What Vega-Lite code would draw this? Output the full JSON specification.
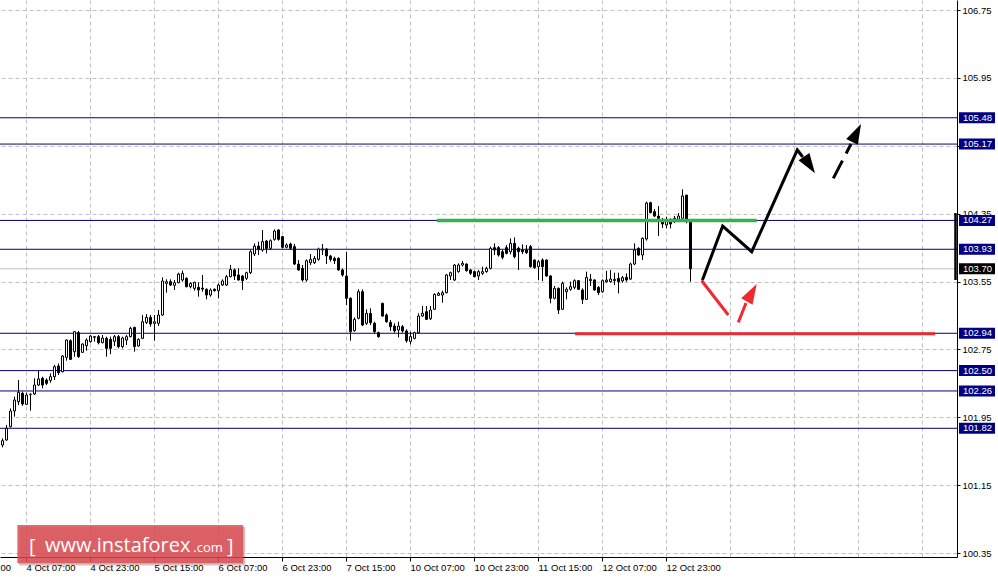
{
  "$schema": "https://vega.github.io/schema/vega-lite/v6.json",
  "width": 957,
  "height": 557,
  "autosize": {"type": "none"},
  "padding": {"left": 0, "top": 0, "right": 41, "bottom": 20},
  "background": "white",
  "config": {
    "view": {"stroke": null},
    "axis": {"labelFont": "Liberation Sans", "labelFontSize": 9.5, "labelColor": "black", "domainColor": "black", "tickColor": "black", "gridColor": "#c0c0c0", "gridDash": [4, 3], "gridWidth": 1, "labelOverlap": false, "labelBound": false, "labelFlush": false}
  },
  "datasets": {
    "candles": [
      {"i":0,"o":101.623,"h":101.701,"l":101.595,"c":101.674},
      {"i":1,"o":101.682,"h":101.859,"l":101.674,"c":101.819},
      {"i":2,"o":101.839,"h":102.055,"l":101.831,"c":102.024},
      {"i":3,"o":102.024,"h":102.192,"l":101.957,"c":102.153},
      {"i":4,"o":102.133,"h":102.389,"l":102.094,"c":102.244},
      {"i":5,"o":102.232,"h":102.252,"l":102.086,"c":102.106},
      {"i":6,"o":102.102,"h":102.240,"l":102.094,"c":102.212},
      {"i":7,"o":102.220,"h":102.232,"l":102.027,"c":102.220},
      {"i":8,"o":102.224,"h":102.409,"l":102.212,"c":102.330},
      {"i":9,"o":102.330,"h":102.499,"l":102.318,"c":102.401},
      {"i":10,"o":102.409,"h":102.428,"l":102.291,"c":102.330},
      {"i":11,"o":102.389,"h":102.409,"l":102.330,"c":102.350},
      {"i":12,"o":102.385,"h":102.467,"l":102.358,"c":102.428},
      {"i":13,"o":102.428,"h":102.566,"l":102.389,"c":102.546},
      {"i":14,"o":102.554,"h":102.585,"l":102.448,"c":102.475},
      {"i":15,"o":102.487,"h":102.684,"l":102.479,"c":102.672},
      {"i":16,"o":102.656,"h":102.868,"l":102.617,"c":102.860},
      {"i":17,"o":102.852,"h":102.868,"l":102.625,"c":102.633},
      {"i":18,"o":102.723,"h":102.967,"l":102.664,"c":102.959},
      {"i":19,"o":102.947,"h":102.967,"l":102.652,"c":102.664},
      {"i":20,"o":102.715,"h":102.821,"l":102.711,"c":102.813},
      {"i":21,"o":102.793,"h":102.880,"l":102.735,"c":102.860},
      {"i":22,"o":102.841,"h":102.919,"l":102.829,"c":102.907},
      {"i":23,"o":102.892,"h":102.907,"l":102.841,"c":102.900},
      {"i":24,"o":102.900,"h":102.919,"l":102.809,"c":102.829},
      {"i":25,"o":102.829,"h":102.919,"l":102.821,"c":102.884},
      {"i":26,"o":102.880,"h":102.900,"l":102.664,"c":102.762},
      {"i":27,"o":102.868,"h":102.900,"l":102.695,"c":102.762},
      {"i":28,"o":102.845,"h":102.919,"l":102.790,"c":102.900},
      {"i":29,"o":102.900,"h":102.919,"l":102.762,"c":102.782},
      {"i":30,"o":102.782,"h":102.900,"l":102.762,"c":102.884},
      {"i":31,"o":102.860,"h":102.919,"l":102.801,"c":102.900},
      {"i":32,"o":102.900,"h":103.017,"l":102.892,"c":102.998},
      {"i":33,"o":103.009,"h":103.017,"l":102.723,"c":102.782},
      {"i":34,"o":102.790,"h":102.880,"l":102.782,"c":102.868},
      {"i":35,"o":102.880,"h":103.155,"l":102.872,"c":103.076},
      {"i":36,"o":103.068,"h":103.167,"l":103.049,"c":103.127},
      {"i":37,"o":103.127,"h":103.155,"l":103.017,"c":103.049},
      {"i":38,"o":103.057,"h":103.155,"l":102.852,"c":103.076},
      {"i":39,"o":103.057,"h":103.214,"l":103.025,"c":103.155},
      {"i":40,"o":103.155,"h":103.599,"l":103.147,"c":103.556},
      {"i":41,"o":103.528,"h":103.576,"l":103.418,"c":103.548},
      {"i":42,"o":103.548,"h":103.576,"l":103.497,"c":103.509},
      {"i":43,"o":103.505,"h":103.568,"l":103.450,"c":103.536},
      {"i":44,"o":103.536,"h":103.654,"l":103.528,"c":103.638},
      {"i":45,"o":103.568,"h":103.678,"l":103.548,"c":103.646},
      {"i":46,"o":103.587,"h":103.599,"l":103.481,"c":103.489},
      {"i":47,"o":103.489,"h":103.540,"l":103.469,"c":103.528},
      {"i":48,"o":103.469,"h":103.548,"l":103.442,"c":103.540},
      {"i":49,"o":103.481,"h":103.540,"l":103.371,"c":103.450},
      {"i":50,"o":103.473,"h":103.627,"l":103.430,"c":103.461},
      {"i":51,"o":103.458,"h":103.469,"l":103.340,"c":103.391},
      {"i":52,"o":103.391,"h":103.469,"l":103.371,"c":103.450},
      {"i":53,"o":103.458,"h":103.469,"l":103.430,"c":103.442},
      {"i":54,"o":103.442,"h":103.528,"l":103.352,"c":103.509},
      {"i":55,"o":103.509,"h":103.576,"l":103.497,"c":103.556},
      {"i":56,"o":103.509,"h":103.627,"l":103.497,"c":103.607},
      {"i":57,"o":103.607,"h":103.744,"l":103.599,"c":103.693},
      {"i":58,"o":103.686,"h":103.705,"l":103.568,"c":103.615},
      {"i":59,"o":103.627,"h":103.705,"l":103.560,"c":103.568},
      {"i":60,"o":103.615,"h":103.627,"l":103.450,"c":103.560},
      {"i":61,"o":103.587,"h":103.666,"l":103.568,"c":103.654},
      {"i":62,"o":103.654,"h":103.921,"l":103.638,"c":103.901},
      {"i":63,"o":103.874,"h":104.000,"l":103.850,"c":103.968},
      {"i":64,"o":103.968,"h":104.020,"l":103.862,"c":103.929},
      {"i":65,"o":103.921,"h":104.157,"l":103.901,"c":104.020},
      {"i":66,"o":104.027,"h":104.039,"l":103.882,"c":103.941},
      {"i":67,"o":103.941,"h":104.047,"l":103.921,"c":104.031},
      {"i":68,"o":104.047,"h":104.165,"l":104.031,"c":104.145},
      {"i":69,"o":104.157,"h":104.165,"l":104.031,"c":104.047},
      {"i":70,"o":104.078,"h":104.086,"l":103.941,"c":103.953},
      {"i":71,"o":103.953,"h":104.000,"l":103.941,"c":103.980},
      {"i":72,"o":103.992,"h":104.008,"l":103.921,"c":103.941},
      {"i":73,"o":103.961,"h":103.992,"l":103.744,"c":103.756},
      {"i":74,"o":103.756,"h":103.803,"l":103.678,"c":103.686},
      {"i":75,"o":103.705,"h":103.744,"l":103.548,"c":103.568},
      {"i":76,"o":103.568,"h":103.811,"l":103.548,"c":103.795},
      {"i":77,"o":103.772,"h":103.874,"l":103.744,"c":103.811},
      {"i":78,"o":103.772,"h":103.850,"l":103.756,"c":103.823},
      {"i":79,"o":103.811,"h":103.949,"l":103.795,"c":103.933},
      {"i":80,"o":103.921,"h":103.992,"l":103.862,"c":103.933},
      {"i":81,"o":103.933,"h":103.941,"l":103.756,"c":103.850},
      {"i":82,"o":103.850,"h":103.862,"l":103.784,"c":103.811},
      {"i":83,"o":103.823,"h":103.843,"l":103.756,"c":103.795},
      {"i":84,"o":103.823,"h":103.835,"l":103.678,"c":103.686},
      {"i":85,"o":103.686,"h":103.705,"l":103.607,"c":103.627},
      {"i":86,"o":103.615,"h":103.901,"l":103.273,"c":103.352},
      {"i":87,"o":103.352,"h":103.363,"l":102.852,"c":102.959},
      {"i":88,"o":102.970,"h":103.127,"l":102.959,"c":103.104},
      {"i":89,"o":103.116,"h":103.458,"l":103.104,"c":103.430},
      {"i":90,"o":103.430,"h":103.458,"l":103.025,"c":103.037},
      {"i":91,"o":103.057,"h":103.222,"l":103.037,"c":103.175},
      {"i":92,"o":103.175,"h":103.234,"l":103.037,"c":103.064},
      {"i":93,"o":103.057,"h":103.076,"l":102.939,"c":102.959},
      {"i":94,"o":102.947,"h":102.959,"l":102.888,"c":102.900},
      {"i":95,"o":103.293,"h":103.300,"l":103.135,"c":103.143},
      {"i":96,"o":103.155,"h":103.175,"l":103.064,"c":103.076},
      {"i":97,"o":103.068,"h":103.096,"l":102.967,"c":103.017},
      {"i":98,"o":103.025,"h":103.057,"l":102.947,"c":102.967},
      {"i":99,"o":102.978,"h":103.076,"l":102.892,"c":103.025},
      {"i":100,"o":103.017,"h":103.037,"l":102.947,"c":102.967},
      {"i":101,"o":102.967,"h":102.986,"l":102.829,"c":102.852},
      {"i":102,"o":102.845,"h":102.959,"l":102.809,"c":102.900},
      {"i":103,"o":102.880,"h":102.959,"l":102.868,"c":102.947},
      {"i":104,"o":102.947,"h":103.175,"l":102.939,"c":103.143},
      {"i":105,"o":103.143,"h":103.261,"l":103.135,"c":103.175},
      {"i":106,"o":103.194,"h":103.261,"l":103.096,"c":103.104},
      {"i":107,"o":103.112,"h":103.261,"l":103.096,"c":103.214},
      {"i":108,"o":103.222,"h":103.410,"l":103.214,"c":103.399},
      {"i":109,"o":103.387,"h":103.426,"l":103.379,"c":103.410},
      {"i":110,"o":103.391,"h":103.442,"l":103.300,"c":103.418},
      {"i":111,"o":103.418,"h":103.638,"l":103.410,"c":103.627},
      {"i":112,"o":103.615,"h":103.666,"l":103.568,"c":103.654},
      {"i":113,"o":103.568,"h":103.756,"l":103.556,"c":103.744},
      {"i":114,"o":103.666,"h":103.764,"l":103.654,"c":103.744},
      {"i":115,"o":103.744,"h":103.791,"l":103.725,"c":103.764},
      {"i":116,"o":103.756,"h":103.764,"l":103.666,"c":103.678},
      {"i":117,"o":103.686,"h":103.697,"l":103.627,"c":103.646},
      {"i":118,"o":103.666,"h":103.678,"l":103.599,"c":103.607},
      {"i":119,"o":103.615,"h":103.686,"l":103.568,"c":103.666},
      {"i":120,"o":103.646,"h":103.725,"l":103.627,"c":103.666},
      {"i":121,"o":103.666,"h":103.725,"l":103.654,"c":103.705},
      {"i":122,"o":103.705,"h":103.961,"l":103.693,"c":103.941},
      {"i":123,"o":103.949,"h":104.000,"l":103.862,"c":103.921},
      {"i":124,"o":103.949,"h":103.968,"l":103.843,"c":103.862},
      {"i":125,"o":103.901,"h":103.921,"l":103.811,"c":103.835},
      {"i":126,"o":103.949,"h":103.980,"l":103.870,"c":103.882},
      {"i":127,"o":103.901,"h":104.059,"l":103.870,"c":104.000},
      {"i":128,"o":104.000,"h":104.070,"l":103.823,"c":103.843},
      {"i":129,"o":103.941,"h":103.961,"l":103.686,"c":103.901},
      {"i":130,"o":103.921,"h":103.988,"l":103.874,"c":103.901},
      {"i":131,"o":103.921,"h":103.980,"l":103.874,"c":103.890},
      {"i":132,"o":103.961,"h":103.980,"l":103.713,"c":103.725},
      {"i":133,"o":103.803,"h":103.811,"l":103.701,"c":103.713},
      {"i":134,"o":103.725,"h":103.803,"l":103.568,"c":103.784},
      {"i":135,"o":103.803,"h":103.823,"l":103.556,"c":103.725},
      {"i":136,"o":103.803,"h":103.811,"l":103.607,"c":103.615},
      {"i":137,"o":103.615,"h":103.627,"l":103.293,"c":103.352},
      {"i":138,"o":103.352,"h":103.497,"l":103.340,"c":103.469},
      {"i":139,"o":103.469,"h":103.481,"l":103.167,"c":103.214},
      {"i":140,"o":103.222,"h":103.548,"l":103.214,"c":103.528},
      {"i":141,"o":103.430,"h":103.481,"l":103.340,"c":103.458},
      {"i":142,"o":103.458,"h":103.548,"l":103.442,"c":103.489},
      {"i":143,"o":103.481,"h":103.576,"l":103.458,"c":103.560},
      {"i":144,"o":103.560,"h":103.568,"l":103.450,"c":103.458},
      {"i":145,"o":103.450,"h":103.469,"l":103.285,"c":103.340},
      {"i":146,"o":103.340,"h":103.666,"l":103.332,"c":103.599},
      {"i":147,"o":103.560,"h":103.638,"l":103.497,"c":103.576},
      {"i":148,"o":103.568,"h":103.576,"l":103.442,"c":103.450},
      {"i":149,"o":103.481,"h":103.497,"l":103.391,"c":103.418},
      {"i":150,"o":103.430,"h":103.576,"l":103.418,"c":103.560},
      {"i":151,"o":103.548,"h":103.674,"l":103.536,"c":103.568},
      {"i":152,"o":103.548,"h":103.686,"l":103.536,"c":103.579},
      {"i":153,"o":103.560,"h":103.654,"l":103.509,"c":103.576},
      {"i":154,"o":103.587,"h":103.654,"l":103.410,"c":103.548},
      {"i":155,"o":103.556,"h":103.615,"l":103.536,"c":103.595},
      {"i":156,"o":103.599,"h":103.646,"l":103.548,"c":103.568},
      {"i":157,"o":103.579,"h":103.772,"l":103.568,"c":103.756},
      {"i":158,"o":103.756,"h":104.000,"l":103.744,"c":103.921},
      {"i":159,"o":103.941,"h":103.953,"l":103.850,"c":103.862},
      {"i":160,"o":103.862,"h":104.070,"l":103.803,"c":104.059},
      {"i":161,"o":104.051,"h":104.490,"l":104.031,"c":104.475},
      {"i":162,"o":104.479,"h":104.490,"l":104.354,"c":104.361},
      {"i":163,"o":104.373,"h":104.404,"l":104.310,"c":104.322},
      {"i":164,"o":104.322,"h":104.440,"l":104.086,"c":104.295},
      {"i":165,"o":104.267,"h":104.298,"l":104.180,"c":104.228},
      {"i":166,"o":104.216,"h":104.314,"l":104.177,"c":104.263},
      {"i":167,"o":104.267,"h":104.295,"l":104.177,"c":104.228},
      {"i":168,"o":104.255,"h":104.322,"l":104.239,"c":104.295},
      {"i":169,"o":104.283,"h":104.357,"l":104.251,"c":104.322},
      {"i":170,"o":104.295,"h":104.637,"l":104.275,"c":104.558},
      {"i":171,"o":104.569,"h":104.569,"l":104.236,"c":104.255},
      {"i":172,"o":104.255,"h":104.275,"l":103.548,"c":103.700}
    ],
    "levels": [{"v":105.48},{"v":105.17},{"v":104.27},{"v":103.93},{"v":102.94},{"v":102.50},{"v":102.26},{"v":101.82}],
    "zig": [{"k":0,"i":175.05,"p":103.576},{"k":1,"i":180.05,"p":104.204},{"k":2,"i":187.3,"p":103.901},{"k":3,"i":198.7,"p":105.10},{"k":4,"i":199.875,"p":105.029}],
    "dash": [{"k":0,"i":207.7,"p":104.766},{"k":1,"i":212.125,"p":105.171}],
    "red": [{"seg":"a","k":0,"i":174.8,"p":103.559},{"seg":"a","k":1,"i":181.45,"p":103.155},{"seg":"b","k":0,"i":183.95,"p":103.069},{"seg":"b","k":1,"i":185.875,"p":103.296}],
    "one": [{}]
  },
  "layer": [
    {
      "data": {"name": "one"},
      "mark": {"type": "rule", "color": "#c0c0c0", "strokeWidth": 1},
      "encoding": {"y": {"datum": 103.70, "type": "quantitative", "title": null}}
    },
    {
      "data": {"name": "levels"},
      "mark": {"type": "rule", "color": "#000080", "strokeWidth": 1},
      "encoding": {"y": {"field": "v", "type": "quantitative", "title": null}}
    },
    {
      "data": {"name": "candles"},
      "mark": {"type": "rule", "color": "black", "strokeWidth": 1},
      "encoding": {
        "x": {"field": "i", "type": "quantitative", "title": null,
          "scale": {"domain": [-0.625, 238.625], "nice": false, "zero": false, "padding": 0},
          "axis": {
            "orient": "bottom",
            "values": [5.875,13.875,21.875,29.875,37.875,45.875,53.875,61.875,69.875,77.875,85.875,93.875,101.875,109.875,117.875,125.875,133.875,141.875,149.875,157.875,165.875,173.875,181.875,189.875,197.875,205.875,213.875,221.875,229.875,237.875],
            "labelExpr": "(round((datum.value-5.875)/8) % 2 == 0 && datum.value < 170) ? ['4 Oct 07:00','4 Oct 23:00','5 Oct 15:00','6 Oct 07:00','6 Oct 23:00','7 Oct 15:00','10 Oct 07:00','10 Oct 23:00','11 Oct 15:00','12 Oct 07:00','12 Oct 23:00'][round((datum.value-5.875)/16)] : ''",
            "tickOpacity": {"condition": {"test": "round((datum.value-5.875)/8) % 2 == 0 && datum.value < 170", "value": 1}, "value": 0},
            "tickSize": 4, "labelAlign": "left", "labelBaseline": "top", "labelPadding": 1, "grid": true, "title": null
          }
        },
        "y": {"field": "l", "type": "quantitative", "title": null,
          "scale": {"domain": [100.303, 106.868], "nice": false, "zero": false, "padding": 0},
          "axis": {
            "orient": "right",
            "values": [106.75,106.35,105.95,105.55,105.15,104.75,104.35,103.95,103.55,103.15,102.75,102.35,101.95,101.55,101.15,100.75,100.35],
            "format": ".2f", "tickSize": 3, "labelPadding": 2, "labelAlign": "left", "labelBaseline": "middle", "grid": true, "title": null
          }
        },
        "y2": {"field": "h"}
      }
    },
    {
      "data": {"name": "candles"},
      "mark": {"type": "bar", "width": 2, "stroke": "black", "strokeWidth": 1},
      "encoding": {
        "x": {"field": "i", "type": "quantitative", "title": null},
        "y": {"field": "o", "type": "quantitative", "title": null},
        "y2": {"field": "c"},
        "fill": {"condition": {"test": "datum.c > datum.o", "value": "white"}, "value": "black"}
      }
    },
    {
      "data": {"name": "one"},
      "mark": {"type": "rule", "color": "#36b34e", "strokeWidth": 3.5},
      "encoding": {
        "x": {"datum": 108.55, "type": "quantitative", "title": null},
        "x2": {"datum": 188.55},
        "y": {"datum": 104.27, "type": "quantitative", "title": null}
      }
    },
    {
      "data": {"name": "one"},
      "mark": {"type": "rule", "color": "#ee2a30", "strokeWidth": 3},
      "encoding": {
        "x": {"datum": 143.125, "type": "quantitative", "title": null},
        "x2": {"datum": 233.125},
        "y": {"datum": 102.935, "type": "quantitative", "title": null}
      }
    },
    {
      "data": {"name": "zig"},
      "mark": {"type": "line", "color": "black", "strokeWidth": 3, "strokeCap": "round", "strokeJoin": "miter"},
      "encoding": {
        "x": {"field": "i", "type": "quantitative", "title": null},
        "y": {"field": "p", "type": "quantitative", "title": null},
        "order": {"field": "k"}
      }
    },
    {
      "data": {"name": "dash"},
      "mark": {"type": "line", "color": "black", "strokeWidth": 3, "strokeDash": [20, 8]},
      "encoding": {
        "x": {"field": "i", "type": "quantitative", "title": null},
        "y": {"field": "p", "type": "quantitative", "title": null},
        "order": {"field": "k"}
      }
    },
    {
      "data": {"name": "red"},
      "mark": {"type": "line", "color": "#ee2a30", "strokeWidth": 3},
      "encoding": {
        "x": {"field": "i", "type": "quantitative", "title": null},
        "y": {"field": "p", "type": "quantitative", "title": null},
        "detail": {"field": "seg"},
        "order": {"field": "k"}
      }
    },
    {
      "data": {"values": [{"i": 203.125, "p": 104.825}]},
      "mark": {"type": "point", "shape": "M0,0L0.65,2L-0.65,2Z", "filled": true, "color": "black", "opacity": 1, "size": 400, "angle": 146.6, "strokeWidth": 0},
      "encoding": {
        "x": {"field": "i", "type": "quantitative", "title": null},
        "y": {"field": "p", "type": "quantitative", "title": null}
      }
    },
    {
      "data": {"values": [{"i": 214.625, "p": 105.406}]},
      "mark": {"type": "point", "shape": "M0,0L0.65,2L-0.65,2Z", "filled": true, "color": "black", "opacity": 1, "size": 400, "angle": 26.6, "strokeWidth": 0},
      "encoding": {
        "x": {"field": "i", "type": "quantitative", "title": null},
        "y": {"field": "p", "type": "quantitative", "title": null}
      }
    },
    {
      "data": {"values": [{"i": 188.55, "p": 103.52}]},
      "mark": {"type": "point", "shape": "M0,0L0.65,2L-0.65,2Z", "filled": true, "color": "#ee2a30", "opacity": 1, "size": 400, "angle": 29.4, "strokeWidth": 0},
      "encoding": {
        "x": {"field": "i", "type": "quantitative", "title": null},
        "y": {"field": "p", "type": "quantitative", "title": null}
      }
    },
    {
      "data": {"name": "one"},
      "mark": {"type": "rule", "color": "black", "strokeWidth": 2.5},
      "encoding": {
        "x": {"datum": 238.25, "type": "quantitative", "title": null},
        "y": {"datum": 104.357, "type": "quantitative", "title": null},
        "y2": {"datum": 103.568}
      }
    },
    {
      "data": {"name": "levels"},
      "mark": {"type": "tick", "orient": "horizontal", "color": "#000080", "size": 36, "thickness": 11, "opacity": 1},
      "encoding": {
        "x": {"datum": 243.625, "type": "quantitative", "title": null},
        "y": {"field": "v", "type": "quantitative", "title": null}
      }
    },
    {
      "data": {"name": "one"},
      "mark": {"type": "tick", "orient": "horizontal", "color": "black", "size": 36, "thickness": 11, "opacity": 1},
      "encoding": {
        "x": {"datum": 243.625, "type": "quantitative", "title": null},
        "y": {"datum": 103.70, "type": "quantitative", "title": null}
      }
    },
    {
      "data": {"name": "levels"},
      "mark": {"type": "text", "color": "white", "font": "Liberation Sans", "fontSize": 9.5, "align": "left", "baseline": "middle"},
      "encoding": {
        "x": {"datum": 240.125, "type": "quantitative", "title": null},
        "y": {"field": "v", "type": "quantitative", "title": null},
        "text": {"field": "v", "type": "quantitative", "format": ".2f"}
      }
    },
    {
      "data": {"name": "one"},
      "mark": {"type": "text", "color": "white", "font": "Liberation Sans", "fontSize": 9.5, "align": "left", "baseline": "middle", "text": "103.70"},
      "encoding": {
        "x": {"datum": 240.125, "type": "quantitative", "title": null},
        "y": {"datum": 103.70, "type": "quantitative", "title": null}
      }
    },
    {
      "data": {"name": "one"},
      "mark": {"type": "text", "color": "black", "font": "Liberation Sans", "fontSize": 9.5, "align": "left", "baseline": "top", "text": "3 Oct 15:00"},
      "encoding": {
        "x": {"datum": -10.125, "type": "quantitative", "title": null},
        "y": {"datum": 100.238, "type": "quantitative", "title": null}
      }
    },
    {
      "data": {"name": "one"},
      "mark": {"type": "rect", "color": "#7a3030", "opacity": 0.3},
      "encoding": {
        "x": {"datum": 4.2, "type": "quantitative", "title": null},
        "x2": {"datum": 60.7},
        "y": {"datum": 100.656, "type": "quantitative", "title": null},
        "y2": {"datum": 100.204}
      }
    },
    {
      "data": {"name": "one"},
      "mark": {"type": "rect", "color": "#dc4a50", "opacity": 0.82},
      "encoding": {
        "x": {"datum": 3.7, "type": "quantitative", "title": null},
        "x2": {"datum": 60.2},
        "y": {"datum": 100.680, "type": "quantitative", "title": null},
        "y2": {"datum": 100.228}
      }
    },
    {
      "data": {"name": "one"},
      "mark": {"type": "text", "color": "white", "font": "Open Sans", "fontSize": 20, "align": "left", "baseline": "alphabetic", "text": "["},
      "encoding": {
        "x": {"datum": 6.625, "type": "quantitative", "title": null},
        "y": {"datum": 100.35, "type": "quantitative", "title": null}
      }
    },
    {
      "data": {"name": "one"},
      "mark": {"type": "text", "color": "white", "font": "Open Sans", "fontSize": 20, "align": "left", "baseline": "alphabetic", "text": "www.instaforex"},
      "encoding": {
        "x": {"datum": 10.625, "type": "quantitative", "title": null},
        "y": {"datum": 100.365, "type": "quantitative", "title": null}
      }
    },
    {
      "data": {"name": "one"},
      "mark": {"type": "text", "color": "white", "font": "Open Sans", "fontSize": 13, "align": "left", "baseline": "alphabetic", "text": ".com"},
      "encoding": {
        "x": {"datum": 47.7, "type": "quantitative", "title": null},
        "y": {"datum": 100.365, "type": "quantitative", "title": null}
      }
    },
    {
      "data": {"name": "one"},
      "mark": {"type": "text", "color": "white", "font": "Open Sans", "fontSize": 20, "align": "left", "baseline": "alphabetic", "text": "]"},
      "encoding": {
        "x": {"datum": 56.125, "type": "quantitative", "title": null},
        "y": {"datum": 100.35, "type": "quantitative", "title": null}
      }
    }
  ]
}
